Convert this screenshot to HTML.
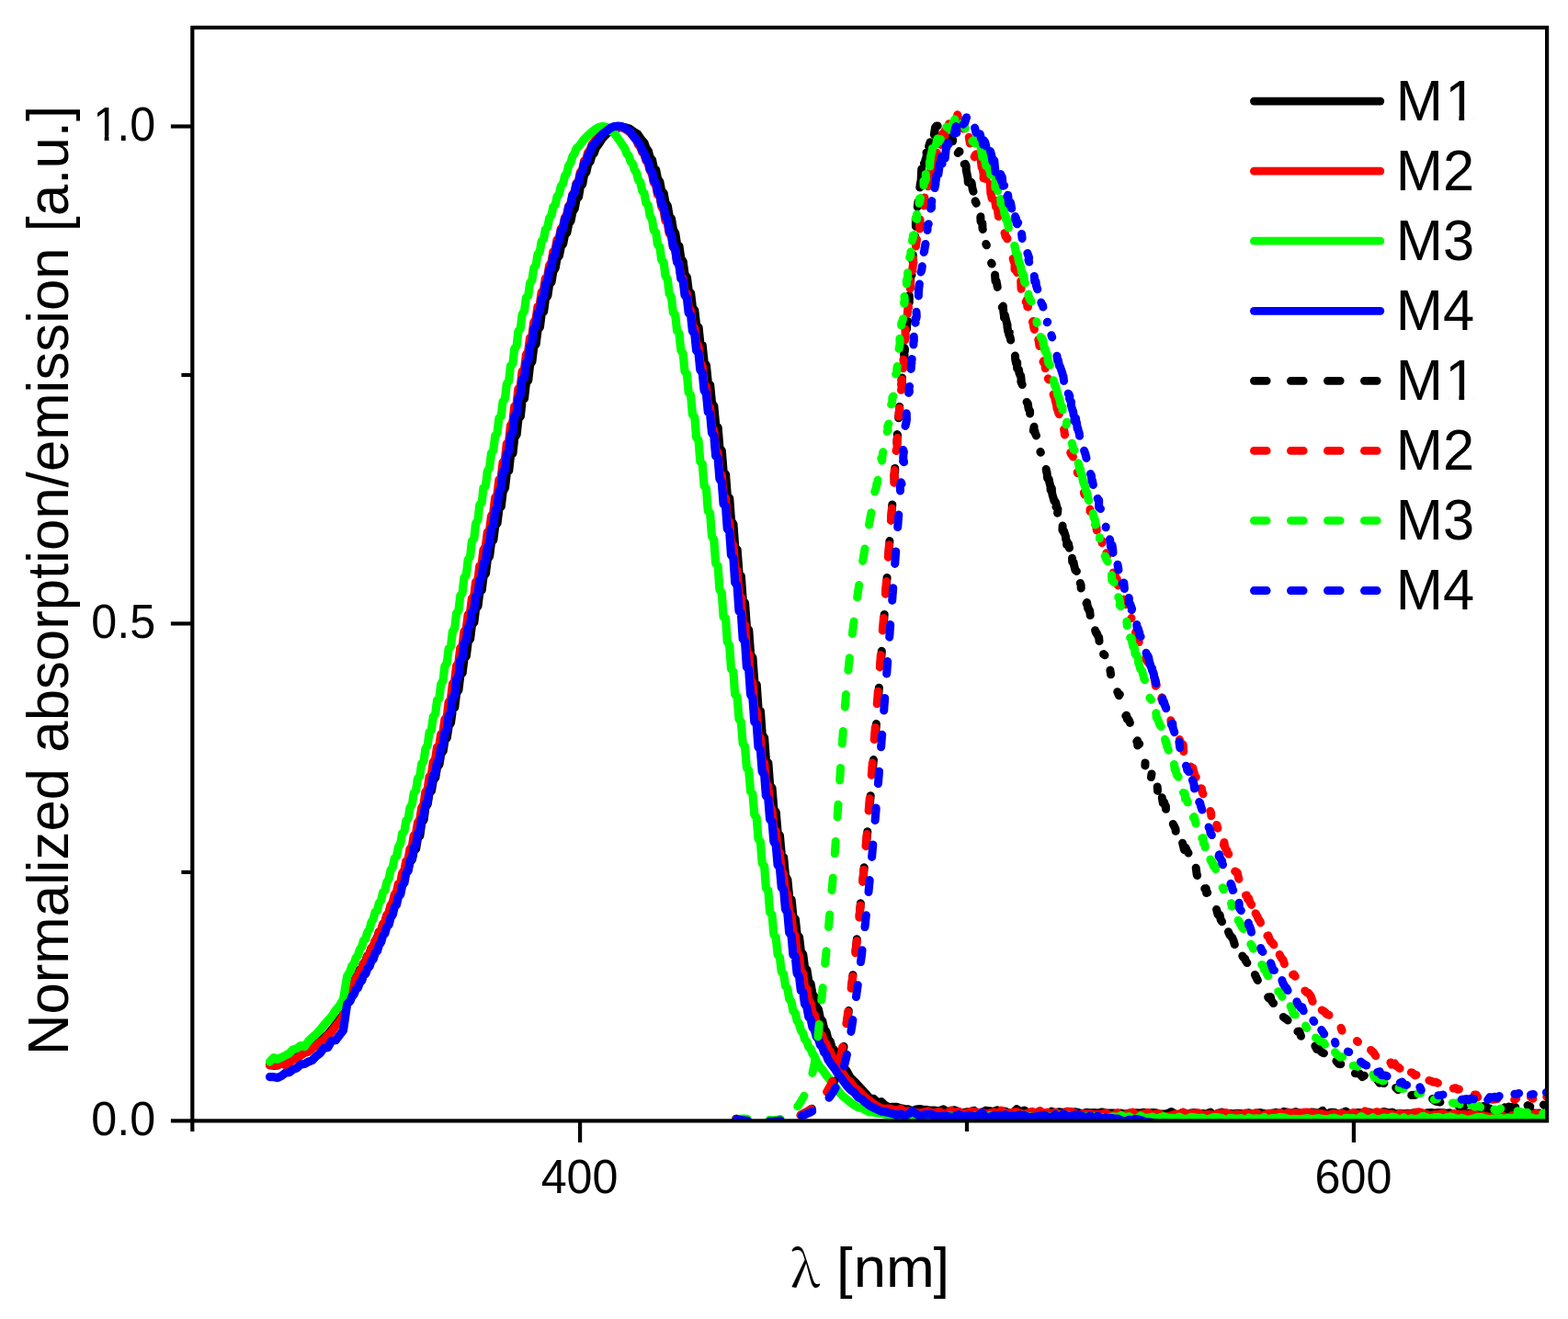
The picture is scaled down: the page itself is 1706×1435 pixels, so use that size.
<!DOCTYPE html>
<html lang="en"><head><meta charset="utf-8"><title>Normalized absorption/emission spectra</title>
<style>
html,body{margin:0;padding:0;background:#fff;}
body{width:1706px;height:1435px;overflow:hidden;}
svg{display:block;}
svg text{font-family:'Liberation Sans', sans-serif;fill:#000;}
</style></head>
<body>
<svg width="1706" height="1435" viewBox="0 0 1706 1435">
<rect x="0" y="0" width="1706" height="1435" fill="#fff"/>
<defs><clipPath id="plot"><rect x="209.3" y="30.0" width="1473.80" height="1189.40"/></clipPath></defs>
<g clip-path="url(#plot)" fill="none">
<path d="M293.5 1158.5l4.2 0.8l4.2 -0.4l4.2 -2.2l4.3 0.5l4.2 -2.1l4.2 -3.2l4.2 -1.7l4.2 -2.8l4.2 -2.4l4.2 -2.8l4.2 -2.3l4.2 -4.1l4.3 -2.8l4.2 -4l4.2 -3.5l4.2 -5.1l4.2 -5.2l4.2 -6l4.2 -4.9l4.2 -22.7l3.3 -5l1.9 -5.4l2.3 -2.1l1.9 -5.4l2.3 -3l1.9 -5.5l2.4 -1.5l1.8 -5.5l2.4 -2.7l1.8 -5.6l2.4 -2.2l1.8 -5.7l2.4 -2l1.8 -5.9l2.4 -4.1l1.8 -6l2.4 -1.7l1.9 -6.3l2.3 -3.3l1.9 -6.6l2.3 -2.3l1.9 -7l2.3 -3.7l1.9 -7.2l2.3 -2.6l1.9 -7l2.4 -2.7l1.8 -6.6l2.4 -2.6l1.8 -6.3l2.4 -3l1.8 -6.8l2.4 -3.3l1.8 -8.7l2.4 -2.9l1.9 -11.6l2.3 -2.4l1.9 -14l2.3 -3.4l1.9 -13.6l2.3 -3.6l1.9 -12.2l2.3 -2l1.9 -11.5l2.4 -3.2l1.8 -11.2l2.4 -2.9l1.8 -11.3l2.4 -3.5l1.8 -11.8l2.4 -2.5l1.8 -12.7l2.4 -3.8l1.9 -14.3l2.3 -2.3l1.9 -15.5l2.3 -3.5l1.9 -15.9l2.3 -2.5l1.9 -15.6l2.3 -2.8l1.9 -15.2l2.4 -3.7l1.8 -15l2.4 -2.8l1.8 -14.8l2.4 -3l1.8 -14.8l2.4 -2.6l1.8 -14.8l2.4 -3.2l1.9 -15l2.3 -3.8l1.9 -15.2l2.3 -2.4l1.9 -15.4l2.3 -2.9l1.9 -15.7l2.3 -2.4l1.9 -16l2.4 -4.5l1.8 -16.1l2.4 -2.6l1.8 -16.3l2.4 -2.3l1.8 -16.6l2.4 -4l1.8 -16.8l2.4 -3l1.8 -16.9l2.4 -2.4l1.9 -17l2.3 -2.8l1.9 -16.9l2.3 -3.7l1.9 -16.2l2.3 -2.5l1.9 -15.5l2.4 -3.2l1.8 -14.5l2.4 -2.4l1.8 -13.5l2.4 -3.6l1.8 -12.4l2.4 -2.6l1.8 -11.5l2.4 -3.8l1.8 -10.6l2.4 -2.7l1.9 -10l2.3 -2.9l1.9 -9.7l2.3 -2.5l1.9 -9.6l2.3 -3.3l1.9 -9.8l2.3 -3.5l1.9 -10.3l2.4 -2.4l1.8 -10.8l2.4 -3l1.8 -10.1l2.4 -3.3l1.8 -8.3l2.4 -3l1.8 -6.6l2.4 -2.5l1.9 -5.6l3.2 -4.3l4.3 -6.6l4.2 -4.4l4.2 -3.2l4.2 -2.4l4.2 -1.1l4.2 -0.5l4.2 0.4l4.2 1.3l4.2 3.1l4.2 2.4l4.3 6.2l3.2 3.7l1.9 5.4l2.4 3.3l1.8 6.8l2.4 2.9l1.8 8.5l2.4 2.5l1.8 9.4l2.4 3.7l1.8 9.9l2.4 2.2l1.9 10.4l2.3 3.4l1.9 11l2.3 3l1.9 11.7l2.3 4l1.9 12.4l2.3 1.6l1.9 13.1l2.4 3.8l1.8 13.9l2.4 3.2l1.8 14.6l2.4 2.8l1.8 15.4l2.4 3.3l1.8 16.2l2.4 2.1l1.8 17.1l2.4 2.4l1.9 17.9l2.3 4.2l1.9 18.8l2.3 2.2l1.9 19.8l2.3 3.3l1.9 20.7l2.4 2.6l1.8 21.7l2.4 3.9l1.8 22.6l2.4 2.9l1.8 23.6l2.4 2.3l1.8 24.4l2.4 3.7l1.8 25.2l2.4 2.6l1.9 25.9l2.3 2.9l1.9 26.3l2.3 3l1.9 26.6l2.3 2.9l1.9 26.6l2.3 3.4l1.9 26.5l2.4 2.8l1.8 26.1l2.4 2.8l1.8 25.5l2.4 3.6l1.8 24.8l2.4 2.3l1.8 24.1l2.4 3.3l1.9 23.2l2.3 3l1.9 22.2l2.3 3.4l1.9 21.3l2.3 2.2l1.9 20.4l2.3 3.9l1.9 19.4l2.4 2.4l1.8 18.2l2.4 2.9l1.8 16.8l2.4 2.8l1.8 15.4l2.4 3.5l1.8 14l2.4 2.8l1.9 12.7l2.3 2.5l1.9 11.5l2.3 3l1.9 10.3l2.3 3.2l1.9 9.4l2.3 3l1.9 8.3l2.4 3.7l1.8 7.3l2.4 3l1.8 6.4l2.4 2.4l1.8 5.8l2.4 2.1l1.8 5.2l3.3 4.6l4.2 5.2l4.2 7.5l4.3 4.2l4.2 4.5l4.2 4.5l4.2 4.4l4.2 5.1l4.2 0.3l4.2 4l4.2 -0.6l4.2 3.9l4.3 2.1l4.2 -0.4l4.2 0.1l4.2 1.4l4.2 0.8l4.2 0.3l4.2 1.8l4.2 -1.6l4.2 -0.5l4.3 0.8l4.2 0.3l4.2 0.5l4.2 0l4.2 0.5l4.2 -1.8l4.2 2.9l4.2 -1.4l4.2 -0.5l4.2 2l4.3 0.8l4.2 -0.8l4.2 -0.4l4.2 -1.1l4.2 4.2l4.2 -2.2l4.2 -2.2l4.2 0.5l4.2 0.9l4.3 -1.7l4.2 1.9l4.2 -0.7l4.2 1.9l4.2 -0.2l4.2 -4l4.2 3.1l4.2 -1.8l4.2 3.1l4.3 -1l4.2 0.5l4.2 -1.7l4.2 3.3l4.2 0.3l4.2 -3.4l4.2 1.7l4.2 -1.1l4.2 0.8l4.3 -1.3l4.2 3.6l4.2 -3.1l4.2 0.8l4.2 1l4.2 -1.2l4.2 0.5l4.2 -0.3l4.2 0.5l4.3 -1.1l4.2 0.8l4.2 0.3l4.2 -0.1l4.2 0.5l4.2 -0.3l4.2 1.1l4.2 -1.1l4.2 0.2l4.2 -0.5l4.3 0.2l4.2 -0.8l4.2 2l4.2 -1.8l4.2 0.4l4.2 1.3l4.2 0l4.2 -0.8l4.2 -1.8l4.3 2.7l4.2 -0.1l4.2 -1.9l4.2 2.4l4.2 -1.6l4.2 -0.4l4.2 1.3l4.2 -0.3l4.2 0.4l4.3 -2l4.2 3.8l4.2 -2.7l4.2 -1.1l4.2 2.4l4.2 -1.1l4.2 0.7l4.2 -0.8l4.2 0.3l4.3 0.3l4.2 -1.1l4.2 1.5l4.2 -1.3l4.2 -0.4l4.2 1l4.2 0.4l4.2 -0.8l4.2 -0.8l4.3 1.6l4.2 -2.6l4.2 0.8l4.2 1.1l4.2 -1.6l4.2 1.5l4.2 -0.1l4.2 1.1l4.2 -2.1l4.2 0.3l4.3 1.1l4.2 -3.1l4.2 6.1l4.2 -4.2l4.2 0l4.2 1.7l4.2 -0.9l4.2 -2l4.2 2.7l4.3 0.2l4.2 -1.4l4.2 0.2l4.2 0.8l4.2 -1.5l4.2 1.5l4.2 -0.3l4.2 -0.9l4.2 -0.8l4.3 1.3l4.2 -0.7l4.2 2.1l4.2 -1l4.2 0.7l4.2 -0.7l4.2 0.2l4.2 -1.2l4.2 1.6l4.3 1.3l4.2 -2.3l4.2 -0.3l4.2 0.5l4.2 -0.4l4.2 -0.2l4.2 0.9l4.2 -0.5l4.2 1.9l4.3 -1.5l4.2 0.3l4.2 0.7l4.2 -1.3l4.2 1.9l4.2 -2.3l4.2 -0.2l4.2 0.5l4.2 0.3l4.2 -1.4l4.3 1.5l4.2 -1.7l4.2 3.3l4.2 -1.6l4.2 -0.6l4.2 -0.3l4.2 0.6l4.2 0.2l4.2 -0.9l4.3 0.2l4.2 0.8l4.2 -0.3l4.2 1.6l4.2 0.2" stroke="#000" stroke-width="9.2" stroke-linecap="round" stroke-linejoin="round"/>
<path d="M293.5 1158.9l4.2 0l4.2 0.2l4.2 -2.6l4.3 2.3l4.2 -2.3l4.2 -3.6l4.2 -1.6l4.2 -2.9l4.2 -3.1l4.2 -1.1l4.2 -3.8l4.2 -2.9l4.3 -3.6l4.2 -2.7l4.2 -4.9l4.2 -3.9l4.2 -5.8l4.2 -4.9l4.2 -6.3l4.2 -21.2l3.3 -6.7l1.9 -5.6l2.3 -1.9l1.9 -5.6l2.3 -1.9l1.9 -5.6l2.4 -2.8l1.8 -5.6l2.4 -2.4l1.8 -5.7l2.4 -3l1.8 -5.9l2.4 -2.1l1.8 -6l2.4 -2.4l1.8 -6.3l2.4 -3l1.9 -6.5l2.3 -2.1l1.9 -6.9l2.3 -3.8l1.9 -7.5l2.3 -3.3l1.9 -8.1l2.3 -3.2l1.9 -8.8l2.4 -1.9l1.8 -9.4l2.4 -3.5l1.8 -9.9l2.4 -2.6l1.8 -10.5l2.4 -3.2l1.8 -11.2l2.4 -2.5l1.9 -11.9l2.3 -3.2l1.9 -12.8l2.3 -3.7l1.9 -13.5l2.3 -2.8l1.9 -13.7l2.3 -2.7l1.9 -13.2l2.4 -3.9l1.8 -12.3l2.4 -2l1.8 -12l2.4 -3.1l1.8 -13.3l2.4 -3.1l1.8 -15.4l2.4 -3.5l1.9 -16.8l2.3 -2.8l1.9 -16.6l2.3 -3.6l1.9 -15.9l2.3 -2.5l1.9 -15.4l2.3 -3.2l1.9 -15.1l2.4 -2.7l1.8 -14.9l2.4 -3.2l1.8 -14.7l2.4 -2.7l1.8 -14.8l2.4 -2.6l1.8 -14.9l2.4 -4l1.9 -15.1l2.3 -2.1l1.9 -15.4l2.3 -4.2l1.9 -16l2.3 -3l1.9 -16.5l2.3 -2.2l1.9 -16.8l2.4 -3l1.8 -17l2.4 -2.9l1.8 -17.1l2.4 -3.8l1.8 -16.9l2.4 -2.4l1.8 -16.6l2.4 -2.9l1.8 -16.2l2.4 -2.5l1.9 -15.6l2.3 -3.5l1.9 -14.9l2.3 -2.7l1.9 -14.3l2.3 -3.6l1.9 -13.5l2.4 -2.6l1.8 -12.9l2.4 -3.1l1.8 -12.1l2.4 -2.5l1.8 -11.5l2.4 -3.7l1.8 -10.9l2.4 -2.9l1.8 -10.3l2.4 -2.4l1.9 -9.8l2.3 -2.5l1.9 -9.4l2.3 -3.5l1.9 -9.3l2.3 -3l1.9 -9.2l2.3 -3.3l1.9 -9.3l2.4 -2.4l1.8 -9.5l2.4 -3.2l1.8 -9l2.4 -2.5l1.8 -6.8l2.4 -3.1l1.8 -5.2l3.3 -4.5l4.2 -4.6l4.3 -4.1l4.2 -2.4l4.2 -1.6l4.2 -2.3l4.2 0.6l4.2 -0.4l4.2 2.3l4.2 2.9l4.2 5.1l3.3 3.7l1.9 4.9l2.3 2.4l1.9 5.8l2.3 2.5l1.9 6.6l2.4 2.8l1.8 7.8l2.4 4l1.8 9.3l2.4 2.9l1.8 10.3l2.4 2.2l1.8 10.7l2.4 4.3l1.9 11.1l2.3 2.4l1.9 11.5l2.3 2.5l1.9 12l2.3 3.6l1.9 12.5l2.3 2.8l1.9 13.2l2.4 2.7l1.8 13.9l2.4 2.6l1.8 14.7l2.4 3.8l1.8 15.9l2.4 3.1l1.8 17l2.4 1.9l1.8 18.2l2.4 4.2l1.9 19.4l2.3 3l1.9 20.4l2.3 2.6l1.9 21.1l2.3 3.3l1.9 21.5l2.4 2.8l1.8 21.6l2.4 2.8l1.8 21.8l2.4 3.2l1.8 22.4l2.4 3.7l1.8 23l2.4 1.9l1.8 24.3l2.4 3.6l1.9 25.9l2.3 3l1.9 27.6l2.3 2.7l1.9 28.6l2.3 3.1l1.9 28.6l2.3 2.6l1.9 27.6l2.4 3.2l1.8 25.8l2.4 3.4l1.8 24l2.4 3.1l1.8 22.7l2.4 2.5l1.8 21.7l2.4 4.6l1.9 21l2.3 1.5l1.9 20.4l2.3 3.3l1.9 19.9l2.3 2.9l1.9 19.7l2.3 2.9l1.9 19.5l2.4 3.7l1.8 19.3l2.4 2.3l1.8 18.2l2.4 3.8l1.8 16.4l2.4 2.9l1.8 14.2l2.4 2.1l1.9 12.2l2.3 3.8l1.9 10.4l2.3 2.3l1.9 8.8l2.3 4.4l1.9 7.5l2.3 1.7l1.9 6.6l2.4 2.5l1.8 6l2.4 2.1l1.8 5.4l2.4 2.4l1.8 4.9l3.3 6.2l4.2 4.5l4.2 6.6l4.2 3l4.3 6l4.2 3.2l4.2 4.2l4.2 4l4.2 3.1l4.2 3.4l4.2 3l4.2 1.9l4.2 0.7l4.3 -0.4l4.2 1.2l4.2 1.1l4.2 -2l4.2 3.2l4.2 -0.7l4.2 0.3l4.2 1.5l4.2 -0.1l4.3 -0.4l4.2 -1.2l4.2 1.6l4.2 0.1l4.2 -1.3l4.2 2.2l4.2 -0.5l4.2 -2.7l4.2 2.3l4.2 -1.5l4.3 2.6l4.2 -0.3l4.2 -2.1l4.2 0.2l4.2 1.1l4.2 -0.4l4.2 1.9l4.2 -0.9l4.2 -1.1l4.3 1l4.2 -2.9l4.2 2.5l4.2 0.7l4.2 -1.2l4.2 -0.6l4.2 1.5l4.2 1.5l4.2 -1.9l4.3 -1.4l4.2 2.9l4.2 -3.5l4.2 2.6l4.2 -1.1l4.2 1.8l4.2 -1.9l4.2 2.5l4.2 -1l4.3 -2.2l4.2 -0.1l4.2 1.9l4.2 1.8l4.2 -1.2l4.2 0l4.2 -0.2l4.2 1.1l4.2 -0.3l4.3 -0.1l4.2 -1.4l4.2 2.5l4.2 0.2l4.2 -2.9l4.2 4l4.2 -1.7l4.2 -1.3l4.2 -1.5l4.2 2.8l4.3 0l4.2 -1.3l4.2 -1.3l4.2 3.3l4.2 -1.9l4.2 0.2l4.2 3.6l4.2 -0.7l4.2 -1.3l4.3 -1.5l4.2 1.2l4.2 -3.2l4.2 2.6l4.2 -0.9l4.2 -0.6l4.2 -0.3l4.2 2.3l4.2 -0.5l4.3 0l4.2 0.8l4.2 -1.9l4.2 -0.4l4.2 -0.7l4.2 1.6l4.2 1.2l4.2 -1l4.2 0.8l4.3 -2l4.2 0.7l4.2 -0.3l4.2 -0.6l4.2 3.4l4.2 -1.2l4.2 -1.8l4.2 0l4.2 0.7l4.3 -1.5l4.2 2l4.2 -1.9l4.2 1l4.2 -0.8l4.2 0.6l4.2 -1l4.2 -0.3l4.2 0.7l4.2 0.3l4.3 0.4l4.2 0.4l4.2 1.6l4.2 -0.8l4.2 -1.2l4.2 1.1l4.2 -1.6l4.2 2.4l4.2 -1l4.3 -2.1l4.2 2.3l4.2 0.1l4.2 -3.8l4.2 2.1l4.2 0.3l4.2 -1.6l4.2 1l4.2 0.1l4.3 1.6l4.2 -0.2l4.2 2.5l4.2 -3.3l4.2 1.7l4.2 -1.1l4.2 0.2l4.2 -1.6l4.2 -0.8l4.3 1.3l4.2 1.6l4.2 1l4.2 -1.1l4.2 -0.1l4.2 -1.5l4.2 2.6l4.2 -0.2l4.2 -2l4.3 0.5l4.2 -1l4.2 2.7l4.2 -1.2l4.2 -0.5l4.2 0.6l4.2 0l4.2 -0.9l4.2 -0.9l4.2 -0.1l4.3 -0.4l4.2 2.4l4.2 1.9l4.2 -4.3l4.2 2.1l4.2 0.3l4.2 -1.5l4.2 1.3l4.2 -1.4l4.3 2.5l4.2 -1.9l4.2 0.7l4.2 0.7l4.2 -1.2" stroke="#f00" stroke-width="9.2" stroke-linecap="round" stroke-linejoin="round"/>
<path d="M293.5 1155.1l4.2 -4.5l4.2 1.8l4.2 -2.1l4.3 -2l4.2 -2.2l4.2 -4.3l4.2 -1.2l4.2 -3.1l4.2 1.1l4.2 -5.9l4.2 -4l4.2 -3.8l4.3 -4.6l4.2 -5.2l4.2 -4.7l4.2 -4.7l4.2 -6.5l4.2 -5l4.2 -7l4.2 -25.1l3.3 -5.6l1.9 -5.9l2.3 -2.1l1.9 -6.1l2.3 -2.8l1.9 -6.4l2.4 -3.2l1.8 -6.5l2.4 -2.2l1.8 -6.8l2.4 -3.7l1.8 -7.2l2.4 -3.9l1.8 -7.5l2.4 -1.4l1.8 -8l2.4 -3.5l1.9 -8.4l2.3 -2.2l1.9 -8.8l2.3 -3.8l1.9 -9.3l2.3 -3.2l1.9 -9.8l2.3 -1.9l1.9 -10.3l2.4 -4l1.8 -10.8l2.4 -2.5l1.8 -11.3l2.4 -2.5l1.8 -11.8l2.4 -3.6l1.8 -12.3l2.4 -3l1.9 -12.8l2.3 -2.9l1.9 -13.2l2.3 -2.7l1.9 -13.6l2.3 -3.7l1.9 -14.1l2.3 -2.4l1.9 -14.5l2.4 -3l1.8 -14.9l2.4 -2.2l1.8 -15.3l2.4 -4.1l1.8 -15.6l2.4 -3.2l1.8 -15.9l2.4 -2.4l1.9 -16.2l2.3 -3.4l1.9 -16.4l2.3 -2.7l1.9 -16.6l2.3 -3l1.9 -16.7l2.3 -2.6l1.9 -16.6l2.4 -3.7l1.8 -16.6l2.4 -2.8l1.8 -16.5l2.4 -4l1.8 -16.3l2.4 -2.3l1.8 -16.1l2.4 -2.1l1.9 -15.9l2.3 -3.9l1.9 -15.9l2.3 -3l1.9 -15.8l2.3 -3.2l1.9 -15.9l2.3 -2.2l1.9 -15.9l2.4 -3.2l1.8 -16l2.4 -3.6l1.8 -16.2l2.4 -2.2l1.8 -16.3l2.4 -3.1l1.8 -16.1l2.4 -2.8l1.8 -15.4l2.4 -3.6l1.9 -14.6l2.3 -2.1l1.9 -13.7l2.3 -3.5l1.9 -12.8l2.3 -3.2l1.9 -11.9l2.4 -3.1l1.8 -11l2.4 -2.9l1.8 -10.1l2.4 -2.5l1.8 -9.5l2.4 -3.4l1.8 -9l2.4 -2.4l1.8 -8.7l2.4 -3.2l1.9 -8.4l2.3 -2.7l1.9 -8.3l2.3 -3.2l1.9 -8.2l2.3 -3.2l1.9 -6.8l2.3 -3.3l1.9 -5.4l3.3 -2.8l4.2 -5.9l4.2 -4.6l4.2 -3.7l4.2 -3.4l4.2 -2.6l4.3 -1l4.2 0.9l4.2 3.7l4.2 3l4.2 5.7l4.2 6.3l3.3 4.9l1.8 5.2l2.4 2.6l1.9 6l2.3 2.4l1.9 6.7l2.3 3.1l1.9 7.9l2.3 2.5l1.9 9.2l2.3 3.1l1.9 10.2l2.4 2.8l1.8 11l2.4 4l1.8 12l2.4 2.5l1.8 12.9l2.4 2.8l1.8 13.9l2.4 2.7l1.9 14.9l2.3 3.5l1.9 15.8l2.3 3.6l1.9 16.7l2.3 2.6l1.9 17.5l2.3 2.5l1.9 18.3l2.4 3.9l1.8 19.2l2.4 3l1.8 20.2l2.4 2.8l1.8 21.1l2.4 2.9l1.8 22l2.4 3.1l1.8 22.9l2.4 2.8l1.9 23.7l2.3 3.1l1.9 24.5l2.3 2.4l1.9 25.1l2.3 3.9l1.9 25.7l2.4 2.4l1.8 25.9l2.4 3.7l1.8 26l2.4 1.4l1.8 25.7l2.4 4.1l1.8 25.4l2.4 3.1l1.8 24.8l2.4 2.5l1.9 24.1l2.3 3.3l1.9 23.5l2.3 3.1l1.9 23.1l2.3 2.9l1.9 22.9l2.3 2.5l1.9 22.9l2.4 3.1l1.8 23l2.4 3.4l1.8 23.3l2.4 3.1l1.8 23.8l2.4 2.6l1.8 23.6l2.4 2.9l1.9 21.5l2.3 3.1l1.9 18.5l2.3 3.3l1.9 15.7l2.3 2.1l1.9 13.2l2.3 2.9l1.9 11.2l2.4 3.5l1.8 9.6l2.4 2.5l1.8 8.2l2.4 3.2l1.8 7.1l2.4 3.2l1.8 6.4l2.4 2.9l1.9 5.9l2.3 1.8l1.9 5.4l2.3 3l1.9 5.1l3.3 5.3l4.2 5.2l4.2 6l4.2 5l4.2 5.2l4.2 6.4l4.2 4.7l4.2 3.3l4.2 3.7l4.3 2.9l4.2 2.6l4.2 0.8l4.2 2.5l4.2 1.8l4.2 0.1l4.2 1.1l4.2 0.1l4.2 1l4.3 1.5l4.2 -1.2l4.2 0.4l4.2 1.2l4.2 -0.1l4.2 1.4l4.2 -3.8l4.2 3.6l4.2 -1.4l4.3 0.6l4.2 0.8l4.2 0.3l4.2 -0.1l4.2 -0.9l4.2 1.6l4.2 -2.1l4.2 0.1l4.2 1.1l4.2 -1.5l4.3 3l4.2 -1.3l4.2 1.3l4.2 -2.4l4.2 -0.4l4.2 0.6l4.2 0.6l4.2 -1.4l4.2 1l4.3 -0.4l4.2 1.8l4.2 -2.5l4.2 1.9l4.2 -1.9l4.2 -0.3l4.2 0.2l4.2 -0.5l4.2 1.5l4.3 1.1l4.2 -0.9l4.2 0.5l4.2 1.2l4.2 -1.5l4.2 0l4.2 -0.4l4.2 -1.4l4.2 2.7l4.3 -2.7l4.2 2.7l4.2 -0.7l4.2 1.4l4.2 -1.3l4.2 -0.8l4.2 1.4l4.2 -0.9l4.2 0.4l4.3 0.3l4.2 -0.1l4.2 0l4.2 -0.7l4.2 0.8l4.2 -2.1l4.2 2.2l4.2 -1.1l4.2 2.6l4.2 0.3l4.3 -3.5l4.2 2.3l4.2 -0.2l4.2 -1l4.2 1.8l4.2 -1l4.2 -1.4l4.2 1.7l4.2 0.1l4.3 0.3l4.2 -1.4l4.2 2l4.2 0.2l4.2 -2.1l4.2 0.6l4.2 0.6l4.2 -0.5l4.2 2.5l4.3 -1.7l4.2 -1.3l4.2 0.2l4.2 0.8l4.2 2.6l4.2 -2.7l4.2 0.3l4.2 0.5l4.2 -0.6l4.3 2.5l4.2 -3.1l4.2 1.4l4.2 -0.6l4.2 0.5l4.2 -2l4.2 3.2l4.2 -2l4.2 0.1l4.3 -1l4.2 0.2l4.2 1.4l4.2 0.5l4.2 -0.3l4.2 0.5l4.2 -0.5l4.2 -0.8l4.2 0.9l4.2 -0.2l4.3 -0.8l4.2 0.9l4.2 0.6l4.2 -1.1l4.2 -0.7l4.2 1.2l4.2 1.3l4.2 -2.3l4.2 0.1l4.3 0l4.2 1.5l4.2 -3.4l4.2 2.4l4.2 0.9l4.2 -2.2l4.2 2.6l4.2 -1.1l4.2 -1.2l4.3 0.9l4.2 -1.9l4.2 1l4.2 2.7l4.2 -3l4.2 3l4.2 -2.1l4.2 1.2l4.2 -1l4.3 -2.5l4.2 1.8l4.2 0.8l4.2 -1.4l4.2 -0.2l4.2 1.9l4.2 -1.2l4.2 -1.1l4.2 1.1l4.3 1.7l4.2 -1.4l4.2 1.5l4.2 0.7l4.2 -1.7l4.2 -1.2l4.2 -0.2l4.2 1.4l4.2 1l4.2 -0.7l4.3 0.3l4.2 -1l4.2 0.8l4.2 -0.9l4.2 0.2l4.2 -1.1l4.2 -0.3l4.2 1.2l4.2 -0.6l4.3 0.1l4.2 1.8l4.2 -0.8l4.2 3.3l4.2 -2.2" stroke="#0f0" stroke-width="9.2" stroke-linecap="round" stroke-linejoin="round"/>
<path d="M293.5 1171.6l4.2 0.1l4.2 0.9l4.2 -2l4.3 -3.3l4.2 -0.6l4.2 -3.1l4.2 -1.7l4.2 -3.8l4.2 -0.6l4.2 -2.4l4.2 -1.6l4.2 -4.4l4.3 -3.3l4.2 -5.6l4.2 -0.6l4.2 -7.3l4.2 -0.5l4.2 -5.3l4.2 -5.5l4.2 -28.7l3.3 -3.2l1.9 -4.7l2.3 -2.7l1.9 -4.9l2.3 -2.2l1.9 -5.2l2.4 -2.5l1.8 -5.4l2.4 -2.1l1.8 -5.6l2.4 -2.3l1.8 -5.8l2.4 -2.5l1.8 -6.1l2.4 -2.3l1.8 -6.4l2.4 -3.7l1.9 -6.7l2.3 -2.6l1.9 -7l2.3 -2.4l1.9 -7.5l2.3 -3.4l1.9 -8l2.3 -2.9l1.9 -8.7l2.4 -2.5l1.8 -9.3l2.4 -3.5l1.8 -10l2.4 -2.9l1.8 -10.8l2.4 -3.2l1.8 -11.6l2.4 -2.2l1.9 -12.3l2.3 -3.3l1.9 -12.7l2.3 -3.7l1.9 -12.9l2.3 -2.5l1.9 -12.7l2.3 -3.7l1.9 -12.3l2.4 -2.1l1.8 -12.2l2.4 -3.1l1.8 -12.5l2.4 -3.3l1.8 -13.3l2.4 -3.1l1.8 -14.8l2.4 -3.6l1.9 -16.7l2.3 -1.9l1.9 -17.7l2.3 -3.3l1.9 -17.3l2.3 -3l1.9 -15.7l2.3 -2.6l1.9 -14.1l2.4 -3.6l1.8 -13.7l2.4 -3l1.8 -14l2.4 -3l1.8 -14.7l2.4 -3.2l1.8 -15.3l2.4 -1.5l1.9 -15.8l2.3 -4.1l1.9 -16.4l2.3 -3l1.9 -16.9l2.3 -2.5l1.9 -17.2l2.3 -4.6l1.9 -17.4l2.4 -1.8l1.8 -17.5l2.4 -3l1.8 -17.4l2.4 -3.4l1.8 -17.3l2.4 -2.4l1.8 -16.9l2.4 -4l1.8 -16.5l2.4 -2.2l1.9 -16l2.3 -2.6l1.9 -15.4l2.3 -4.3l1.9 -14.7l2.3 -2.7l1.9 -14.1l2.4 -2.5l1.8 -13.4l2.4 -3l1.8 -12.8l2.4 -3.2l1.8 -12.2l2.4 -2.6l1.8 -11.7l2.4 -3l1.8 -11.1l2.4 -3.7l1.9 -10.6l2.3 -2.5l1.9 -10.2l2.3 -3.5l1.9 -9.8l2.3 -3.3l1.9 -9.4l2.3 -3.2l1.9 -9l2.4 -1.6l1.8 -8.7l2.4 -3.5l1.8 -8.2l2.4 -2.1l1.8 -6.8l2.4 -4l1.8 -5.6l3.3 -4.3l4.2 -4.7l4.3 -5.1l4.2 -3.2l4.2 -3.2l4.2 -1.8l4.2 -0.3l4.2 0.4l4.2 2.3l4.2 2.8l4.2 5.6l4.2 5.4l3.3 4.3l1.9 5.5l2.3 2.9l1.9 6.7l2.4 2.7l1.8 8.1l2.4 3.3l1.8 9l2.4 2.9l1.8 9.7l2.4 2.7l1.8 10.5l2.4 2.3l1.9 11.3l2.3 3.5l1.9 12.2l2.3 4.1l1.9 13.1l2.3 2.6l1.9 14l2.3 3.2l1.9 14.9l2.4 2.2l1.8 15.6l2.4 3.2l1.8 16.2l2.4 2.7l1.8 16.9l2.4 3.6l1.8 17.6l2.4 2.8l1.8 18.4l2.4 3.1l1.9 19.1l2.3 3.5l1.9 20l2.3 1.9l1.9 20.8l2.3 3.6l1.9 21.7l2.4 2.1l1.8 22.6l2.4 4l1.8 23.5l2.4 2.4l1.8 24.6l2.4 3.1l1.8 25.6l2.4 3l1.8 26.6l2.4 3.6l1.9 27.5l2.3 2.3l1.9 28l2.3 2.8l1.9 27.9l2.3 2.8l1.9 27.2l2.3 3.6l1.9 26.1l2.4 2.5l1.8 24.8l2.4 3.1l1.8 23.7l2.4 3.2l1.8 22.9l2.4 3.3l1.8 22.3l2.4 2.5l1.9 21.9l2.3 3.5l1.9 21.7l2.3 3.4l1.9 21.5l2.3 1.7l1.9 21.6l2.3 4.1l1.9 21.6l2.4 3.4l1.8 20.7l2.4 1.9l1.8 18.1l2.4 3.5l1.8 15.2l2.4 2.2l1.8 12.5l2.4 3.6l1.9 10.4l2.3 2.7l1.9 8.6l2.3 3.2l1.9 7.2l2.3 2.4l1.9 6.3l2.3 2.6l1.9 5.7l2.4 2.5l1.8 5.2l3.3 4.8l4.2 5.6l4.2 6.4l4.2 5.6l4.2 5.6l4.2 4.8l4.3 3.1l4.2 5.2l4.2 2.3l4.2 3.7l4.2 3.3l4.2 2.1l4.2 2l4.2 2.1l4.2 0.5l4.3 0.9l4.2 1.1l4.2 1.5l4.2 -1.2l4.2 1.8l4.2 -1.7l4.2 -3.3l4.2 3l4.2 2.5l4.3 -1.6l4.2 -0.3l4.2 -0.3l4.2 2.6l4.2 -0.2l4.2 -0.2l4.2 -0.2l4.2 1.2l4.2 -0.6l4.2 -2.2l4.3 2.2l4.2 -0.7l4.2 -0.3l4.2 1l4.2 -0.8l4.2 -3.2l4.2 4.9l4.2 -0.5l4.2 -1.3l4.3 -0.3l4.2 0.7l4.2 -1.6l4.2 1.7l4.2 -0.5l4.2 -0.2l4.2 -0.6l4.2 0.3l4.2 2l4.3 0.3l4.2 -0.9l4.2 -0.6l4.2 -0.9l4.2 1.8l4.2 1l4.2 -3.6l4.2 3.1l4.2 -3.6l4.3 2l4.2 0.9l4.2 -1.9l4.2 -0.1l4.2 1.9l4.2 0.8l4.2 -1.4l4.2 2.2l4.2 -2.1l4.3 3l4.2 -1.5l4.2 0.5l4.2 0.7l4.2 0.1l4.2 2l4.2 0.9l4.2 -1.5l4.2 -0.3l4.2 -0.6l4.3 1.2l4.2 1.5l4.2 0.5l4.2 0.7l4.2 0.6l4.2 1.1l4.2 -1.4l4.2 1l4.2 2.9l4.3 0.3l4.2 -1.1l4.2 2.5l4.2 -1.9l4.2 0.7l4.2 -1.6l4.2 2.9l4.2 -0.9l4.2 1.2l4.3 -0.4l4.2 -0.6l4.2 0.1l4.2 1.1l4.2 -1.5l4.2 0.1l4.2 0.2l4.2 0.8l4.2 0.2l4.3 1.1l4.2 -2.2l4.2 1.5l4.2 -2.1l4.2 1.4l4.2 -0.5l4.2 1.8l4.2 -1.3l4.2 -1.1l4.3 1.1l4.2 -0.2l4.2 -0.7l4.2 0l4.2 -0.7l4.2 4.1l4.2 -2.9l4.2 0.9l4.2 -2.3l4.2 0.1l4.3 1l4.2 0l4.2 1.1l4.2 -2l4.2 1.7l4.2 1.1l4.2 -2.7l4.2 2l4.2 -2l4.3 1.4l4.2 0.1l4.2 1.5l4.2 -2.7l4.2 1l4.2 0.9l4.2 -2.4l4.2 1.3l4.2 -1l4.3 0.2l4.2 1.5l4.2 0.1l4.2 2l4.2 -1.3l4.2 -0.1l4.2 -1.6l4.2 -0.1l4.2 0.5l4.3 -2.7l4.2 4.3l4.2 -2.5l4.2 -0.4l4.2 0.6l4.2 1.5l4.2 0.4l4.2 -1.8l4.2 0.9l4.3 -0.5l4.2 -1.1l4.2 1.3l4.2 -0.1l4.2 -1.8l4.2 2.9l4.2 -2.9l4.2 2l4.2 -1.4l4.2 0.2l4.3 0.1l4.2 1.6l4.2 -2.2l4.2 1.2l4.2 1.9l4.2 -2.4l4.2 0.7l4.2 0.8l4.2 -1.4l4.3 1.1l4.2 -1.2l4.2 1.5l4.2 -0.7l4.2 -1.1" stroke="#00f" stroke-width="9.2" stroke-linecap="round" stroke-linejoin="round"/>
<path d="M801.3 1217.2l2.3 0.7l2.4 0.6l2.4 0.6l2.4 0.5l2.4 0.4M836.9 1221.1l2.4 -0.2l2.4 -0.2l2.5 -0.3l2.4 -0.4l2.4 -0.4M871.7 1212.7l2 -1l2 -1l1.9 -1l2 -1.1l1.9 -1.2l1.8 -1.2M901.3 1187.8l1.2 -1.8l1.1 -2l1.1 -1.9l1 -2l1 -2l0.9 -2M915.5 1151.5l0.5 -2.1l0.4 -2.2l0.5 -2.2l0.4 -2.2l0.4 -2.2l0.4 -2.1M921.7 1112.8l0.3 -2.2l0.2 -2.2l0.3 -2.2l0.3 -2.2l0.3 -2.2l0.2 -2.2M926.4 1073.9l0.3 -2.2l0.3 -2.2l0.2 -2.2l0.3 -2.2l0.2 -2.2l0.3 -2.2M930.9 1035l0.2 -2.2l0.3 -2.2l0.2 -2.2l0.3 -2.2l0.2 -2.2l0.2 -2.2M935.1 996l0.2 -2.2l0.2 -2.2l0.2 -2.2l0.3 -2.2l0.2 -2.2l0.2 -2.2M939 957l0.2 -2.2l0.2 -2.2l0.2 -2.2l0.2 -2.2l0.2 -2.2l0.2 -2.2M942.6 918l0.2 -2.2l0.2 -2.2l0.2 -2.2l0.2 -2.2l0.2 -2.2l0.2 -2.3M946.1 879l0.1 -2.2l0.2 -2.2l0.2 -2.3l0.2 -2.2l0.2 -2.2l0.2 -2.2M949.3 839.9l0.2 -2.2l0.2 -2.2l0.1 -2.2l0.2 -2.2l0.2 -2.2l0.2 -2.3M952.4 800.9l0.2 -2.3l0.2 -2.2l0.1 -2.2l0.2 -2.2l0.2 -2.2l0.1 -2.2M955.4 761.8l0.2 -2.3l0.1 -2.2l0.2 -2.3l0.2 -2.3l0.1 -2.2l0.2 -2.3M958.3 721.9l0.2 -2.3l0.2 -2.2l0.1 -2.3l0.2 -2.3l0.2 -2.2l0.1 -2.3M961.2 682l0.2 -2.3l0.2 -2.2l0.1 -2.3l0.2 -2.2l0.1 -2.3l0.2 -2.3M964.1 642.1l0.1 -2.3l0.2 -2.2l0.2 -2.3l0.1 -2.2l0.2 -2.3l0.2 -2.3M966.9 602.2l0.2 -2.3l0.2 -2.2l0.1 -2.3l0.2 -2.2l0.2 -2.3l0.1 -2.3M969.8 562.3l0.2 -2.2l0.2 -2.2l0.1 -2.2l0.2 -2.2l0.1 -2.2l0.2 -2.3M973.2 524.4l0.1 -6.1l-0.4 2.9l0.2 -4.7l0.1 -1.1l0.6 -3.5l-0.1 -2.5M976 481.7l-0.1 0.3l0.2 -4.1l0.5 -4.4l-0.4 -0.9M977.7 454.8l0 -1.8l0.8 -3.9l0.5 -1l-0.3 -1.5l0 -4.2M981 417.9l0.1 0.6l0.5 -1.6l-0.7 -4l0.4 1l0.2 -3M983.7 389.2l0.4 -3.1l-0.6 -0.6l0.9 -4l0.1 -1.6l-0.6 -1.6M986.6 357.7l0 -3.7l0.4 -1.3l-0.1 -1.6l0.7 -1.7M989.3 328.9l0.1 -6.3l0 0.3l-0.1 -1.4M990.7 308.3l-0.1 -8.1l0.7 -0.7l0.7 -0.5M992.8 283.5l-0.2 -3.1l0.6 -0.7l0.1 -2.5M994.4 262.7l-0.1 -4.2l0.5 2l0.8 -3.5M996.4 246.4l0 -6.5l-0.1 -1.8l1.2 -0.2M998.2 225l0.2 -0.9l0.5 -4.2l0.5 -1.1M1000.8 203.9l0.6 -4.7l0.2 -0.6l0.5 -1l0 -1.5l0.2 -4.5l0.4 -7.7M1005.4 177.8l1.4 -2l0.1 -1.8l0.9 -2.3l0.6 -3.3l-0.4 -2.3M1010.6 159.4l1.4 -4.7M1016.3 146.5l1.2 -7.6l1.6 -2l1.1 0M1030.6 142.2l0.9 2.2l0.7 -4.5l1.6 7.8l0.5 4.3l2.3 0.4l-0.1 1.4M1042.2 166.5l1.4 -2l0.5 0.5M1049.2 178.6l1 -0.2l1 2.3l0 4.3l1.7 8.2l0.4 5.2M1056.5 198.3l0.6 0.6l1 6.7l0.9 2.7M1061.1 218.8l1.1 2.4M1066.8 237.8l0.1 -2l0.1 4.9l1 1.5l0.8 0.5l0.2 5.8l0.3 1M1072.8 265.4l0.6 1.4M1078.6 286.1l0.6 1M1082.5 299.6l0.1 -0.5l0.4 6.7l0.8 -0.5l0.3 0.7l0.8 4.3l0.3 2.1M1091.4 333.1l-1.1 1.3l1.2 1l0.3 3.8l0.8 5.3l-0.1 1.1l0.8 -2.8l1.2 5.4l0.4 1.2l1.2 4.6l-0.2 1.2l0.9 5.5l1.5 0.9l-0.6 2.3l0.5 1.3l0.9 2l0.6 2.9M1104.5 387.1l0.2 3.8l0.5 2.7l0.3 1.6l0.7 -1.6l0.5 0.8l-0.1 6.3l1.9 1.5l0.4 3.6l0.4 0.7l1 2.8l0.4 -0.3l0.5 5.1l-0.4 1l1.4 3.4M1117.1 437.4l0.8 1.3l0.5 0.8l0.2 1.9l0.6 3.5l1.4 2.4l0 2.7M1125.1 464.3l-0.7 4.1l1.5 0.4l0.3 2.4l1 2.1l0.3 0.6M1131.9 491.5l0.5 0.8M1138.2 510.5l0.4 2.8l0.4 0.3l0.6 6.4l0.6 1.1l1.1 0.4l0.4 2.9l0.1 0.4l1.1 4.1l0.2 4.2l1.2 -1.8l0.2 4.2l0.6 3.2l1.2 3.6l0.6 2.7l0.1 -0.5l1.5 1.9l1.1 4l-0.6 1.1l1.9 2.3l-0.3 4.4M1156.1 572.1l-0.2 4.4l1.3 2.4l0.4 -1.1l1.9 6l0.1 2.9l0.5 0.6l0.6 1.8l-0.1 3.6l1.8 -1.2l1 4.7M1166.5 607.3l0.2 3.9l1.4 0.8l0.4 2.7l1.2 4.6l0.2 0.8l1.5 1.4M1175.3 634.4l0.8 2.1l0.1 3.5M1182 656.4l0.6 -0.9l1 6.2l0.3 -1.1l0.8 3.2l0.9 0.4l0.6 5.2M1191.6 685.8l1 3l0.9 0.1l0.6 2.2l1.5 2.3l0.4 4.2M1200.6 711.6l1.4 1.1M1207.9 729.1l0.7 4.7M1215.8 752.7l0.6 1.4l1 2.6l0.9 -1.3M1224.8 778.9l0.8 -0.7l0.9 4.3l1.1 0.6l0.5 -0.1l1.3 3.4M1236.8 806.7l0.8 -1l0.1 5.2l2 -1.6M1246 829.9l-0.1 3.1M1252.4 845.6l0.6 -3.7M1259.2 856l0.3 4.4M1264.3 867.7l1 6l1.4 -0.8l0.8 3.7l0.9 0.3l0.1 3.4M1276.3 896.5l1.1 2.1l1.6 3.4l0.2 2.3M1286.6 917.2l0.9 3.4l1 4l1.4 -2.5l1.3 2.8l1.8 3.2M1301.2 944.2l0.9 6.8l0.5 1.5M1310.8 966.8l1.4 -0.2l0.4 4.9l1.1 -0.4M1323.6 989.4l1.5 5.7l0.3 -0.6l1.7 0.9l1 5.1l1.5 2.3M1336.5 1013.7l1.4 3.4l1.9 2.2l0.9 0.8l1.2 2.8l1.4 4.7M1351.8 1040l0.9 1.6l1.9 1.4l0.8 2.5l1.5 2.1M1365.4 1060.5l0.2 0.3l1.8 3.8l1 1.9M1379.7 1084.8l0.4 0.9l2.2 -1.2l0.9 3.8l1 1.6l1.4 1.7M1396.3 1106.4l1.8 1.5l1.5 0.7l1.5 1.5M1411.9 1122.2l1.7 -0.2l1.9 5.3M1430.9 1138l1.8 3.6l1.6 -1l1.4 1.8l2.5 2.5l2.2 0.9M1453.9 1154.3l2.6 3l2.3 0.5M1474.4 1167.8l2.9 -0.3l1.9 0.5l1.2 1.6l1.9 2l2.1 -1.4M1498.9 1175.2l2.1 3l2.1 -0.5l2.8 0.9M1518.7 1183.4l2.4 2.2M1535.7 1191.6l4 -0.4M1558.6 1195.6l1.8 1.6l2.4 1.2l2.2 0.3l1.9 0.4M1586.5 1202.9l2.8 0.8l1.7 -0.7l2.5 0.3M1609.3 1203.7l1.8 1.6l2.9 -1.8l1.7 1.5l2.6 0.3l2.7 0.8M1637.3 1204.7l2.7 1.7l1.6 -2.3l2.8 0.5l2 -0.1l2.4 0.1M1662.1 1202.6l2.7 1.2M1679.4 1201.9l2 1.3l2.1 0.1l2.6 1.2l1.3 0.6" stroke="#000" stroke-width="9.0" stroke-linecap="round" stroke-linejoin="round"/>
<path d="M800.4 1217.2l2.4 0.6l2.3 0.6l2.4 0.5l2.4 0.5l2.5 0.4M836 1221.3l2.5 -0.1l2.4 -0.2l2.4 -0.2l2.5 -0.3l2.4 -0.4M870.9 1213.3l2 -1l1.9 -1l1.9 -1.1l1.9 -1.1l1.9 -1.2l1.8 -1.3M899.6 1187.9l1.1 -1.9l1.1 -1.9l1.1 -1.9l1 -2l0.9 -1.9l0.9 -2M913.8 1152l0.5 -2.2l0.5 -2.1l0.5 -2.2l0.5 -2.1l0.4 -2.2l0.4 -2.1M920.8 1113.8l0.4 -2.2l0.3 -2.2l0.3 -2.2l0.3 -2.2l0.3 -2.1l0.3 -2.2M926.1 1075.3l0.3 -2.2l0.3 -2.2l0.3 -2.2l0.3 -2.2l0.2 -2.1l0.3 -2.2M930.8 1036.7l0.3 -2.2l0.2 -2.2l0.3 -2.1l0.2 -2.2l0.2 -2.2l0.3 -2.2M934.9 998.1l0.3 -2.2l0.2 -2.2l0.2 -2.2l0.2 -2.2l0.2 -2.2l0.2 -2.2M938.6 959.4l0.2 -2.2l0.2 -2.2l0.2 -2.2l0.2 -2.1l0.2 -2.2l0.2 -2.2M942 920.7l0.2 -2.2l0.2 -2.2l0.1 -2.2l0.2 -2.2l0.2 -2.1l0.2 -2.2M945.1 882l0.2 -2.2l0.2 -2.2l0.2 -2.2l0.1 -2.2l0.2 -2.2l0.2 -2.2M948.2 843.3l0.2 -2.2l0.2 -2.2l0.1 -2.2l0.2 -2.2l0.2 -2.2l0.1 -2.2M951.2 804.6l0.2 -2.2l0.2 -2.2l0.1 -2.2l0.2 -2.2l0.2 -2.2l0.2 -2.2M954.2 765.8l0.2 -2.2l0.2 -2.3l0.2 -2.3l0.1 -2.2l0.2 -2.3l0.2 -2.2M957.3 725.9l0.2 -2.2l0.1 -2.3l0.2 -2.2l0.2 -2.3l0.1 -2.3l0.2 -2.2M960.3 686.1l0.2 -2.3l0.2 -2.3l0.1 -2.2l0.2 -2.3l0.2 -2.2l0.2 -2.3M963.4 646.2l0.1 -2.3l0.2 -2.3l0.2 -2.2l0.1 -2.3l0.2 -2.2l0.2 -2.3M966.4 606.3l0.1 -2.3l0.2 -2.2l0.2 -2.3l0.2 -2.3l0.1 -2.2l0.2 -2.3M969.4 566.4l0.2 -2.2l0.1 -2.2l0.2 -2.3l0.2 -2.2l0.2 -2.2l0.1 -2.2M972.8 525.3l0.1 -0.8l0.1 -0.9l0.6 -4.1l-0.8 -1.8l0.4 -6.1M975 490.5l1.1 -3.9l-0.1 -2.7l0.2 -1.8l-0.2 -3.2l0.4 -2.4M977.8 453.1l0.7 -3.7l-0.6 -0.7l1 -2.7l-0.3 -1.8M980.4 424.3l0.8 -1.1l-0.3 -2.2l-0.2 -3.6l0.7 -4.5M982.6 400.7l-0.2 -1.7l0.5 -3.2l0.4 -2.2l-0.4 -2.4M984.7 370l0.2 -0.7l0.4 -2.4l-0.3 -5.7l0 -3.1M987.3 341.7l0.3 -4.7l0.5 -2.3l0.4 -0.1l-0.2 -1.5M990.3 314.1l0.3 -0.7l0.3 -2.3l-0.6 -5.7M992.6 294.5l0.4 -3.5l0.5 -3.4l0.4 -1.4l-0.5 -4.9M996.5 268.1l0 -0.9l0.6 -4l0.4 -2.7M1000.7 249l-0.3 -3.7l0.8 -1.7l-0.2 -4.8M1005.1 223.8l0.5 -3.3l0 1l0.3 -6.6M1009.8 202.7l0.4 -2.2l0.4 -5.9l1.3 2l0.7 -11.4l0.5 0.3l0.4 0.9M1016.8 181.5l0.8 -10l0.5 1.9l0.1 -3.5l1 -3.7M1022.5 156.8l1.1 0.6l1 -4.8l0.8 -7l0.9 -0.7l1 10.1l0.8 -12.8M1031.6 139.3l0.9 -4.5l1.2 1.6M1040.2 132.1l1.6 -7.3l1.1 7.1l1.8 -0.6l0.7 5l0.9 2.4l0.6 -2.4l1.2 3.8M1054.2 149.3l1.2 6.7M1060.1 170.7l1.1 -2.2l0.9 -0.8M1067.3 175.1l0.9 7.3l0.8 0.3l1.2 7.2l-0.2 4.1l1.4 -2.3l1.1 -4.6l0.6 7.8M1077.4 200.7l0.5 10.1l0.1 -1.1l1.1 6.1M1082.5 218l1.1 7l-0.2 -1.6l0.9 1.7l1.1 3.2l0.4 3l0.6 4.2M1093 253.6l0.5 0.4l0.4 2.8l2 2.3l-0.1 0.7M1102.2 281.3l0.8 3.2l0.5 0.7l0.6 1.5l-0.1 6.3l1.2 -0.3l1.4 3.9M1110.7 305.8l0.4 8.5M1116.2 328.5l1 -2l0.6 7.2l0.8 0.2M1123.4 350.3l0.8 -0.8l0.3 5.3l0.9 3.6M1129.8 369.5l0.8 4l0.3 2.9M1135.5 392.8l-0.5 0.7l1.9 3.1l0.4 4.2M1140.3 411.8l0.7 1.2M1146.1 429l0.5 1.8l1.1 0.4l0.3 3.7l0.9 3.6l0.6 2l0.5 4.2l0.8 -1l0.6 2.4l-0.1 2l1 2.6M1157.6 467.1l0.9 5.9l0.1 -0.1M1164.7 492.5l1 1.9l0.6 -0.6l1.1 3.2M1172.4 514.7l-0.2 -0.8M1179.4 535.9l0.6 2.1M1186 556.3l0 -2.2M1192.9 573l0.4 4M1199.1 588.5l-0.3 0.3l0.3 1.9M1203.9 601.7l0.8 2.8M1211.3 623l0.6 0.3l1.4 2.4l0.9 4.4l1 -0.6l0.5 4l0.8 3.5M1222.5 652.1l0.7 4.8l1.1 0l0.7 0.8M1231 672.5l-0.2 0.2M1235.5 688l0.5 -0.2l0.9 1.6l0.1 3.2l1.7 0.9l0.5 5.1M1246.6 716.1l1 2.5l0.7 0.7l1.3 2.1M1255.5 735.1l1.2 6.7l0.6 4.4l1 -0.8M1263.7 760.3l0.4 -1.5l1.1 3.6l1.4 1.9l0.6 2.5l0.5 1.2M1273.9 783.8l0.7 4.8M1283.4 804.6l0.8 5.1l1.5 -0.9l0.4 3l1.1 -1.7l0.6 7.6M1295.5 834.1l0.7 0.5l1.7 1l0.7 3.9l0.7 1.5l1.2 5.2l0.8 -0.7M1306.7 857.7l0.8 0.3l0.3 2.8l1.2 3M1316.8 882.5l0.9 2.2l0.1 3M1323.8 897.4l1.1 3.7M1331.3 919l0.6 -2.6l0.7 5.2l1.3 2.6l1 1l0.5 2.6l1.4 1.4M1343.7 947.9l1.7 0.8l1 1.2l0.2 1l1.2 5.4M1355.4 974.1l0.9 -0.1l1.2 4.3l1.1 -1.1l0.8 3.2l2.3 4M1366.1 993.7l2.3 4.2l0.7 2l0.8 1l1.2 1.7l0.4 1.3M1378.9 1018.2l0.9 -0.3l1.3 3.3l1.3 2.7l2 1.9l1.5 2M1392.2 1038.6l1.5 2.9l1.2 1.6l1.2 1.4l1.3 4.2M1406.6 1060.4l1.1 -0.4l1.5 2.3M1419.8 1077.9l2.2 2l1.6 0.5l2 2.4l0.6 1.1l1.9 5.6M1438.2 1099l2 1.1l1.4 1.1l1.8 2.1l2.6 1M1459 1118.2l1.1 3.1M1476.4 1132.5l1.1 0.9M1491.5 1142.4l1.4 1.4l1.6 1.5l2.3 3.4M1512.9 1155.9l1.2 2.3l3.2 -1.3l1.5 2.7l1.6 0.8l2.7 2M1535.4 1166.7l1.3 0.4l2.7 2.8l1.6 -0.5M1554.9 1175.5l2.8 0.8l1.5 0.9l3 0.1l2.2 1M1581.3 1184.1l2.6 -0.4l2 1.6l1.5 -0.3M1604.4 1190.9l1.9 0.1l1.5 2.8M1621.7 1195.2l2.1 1.1l2.5 -0.3l2.7 -0.4M1647.7 1196.4l2 -1.2M1665.4 1193.4l2.5 1.9M1682.8 1193.3l1.4 0.4" stroke="#f00" stroke-width="9.0" stroke-linecap="round" stroke-linejoin="round"/>
<path d="M801 1217.5l2.4 -0.2l2.5 -0.1l2.4 -0.1l2.5 0l2.4 0.1M836.9 1218.6l2.5 0l2.4 -0.1l2.5 -0.2l2.4 -0.3l2.4 -0.5M867.8 1203.7l1.3 -1.8l1.3 -1.9l1.2 -1.9l1.1 -2l1.2 -1.9l1 -2M883.9 1167.4l0.5 -2.2l0.5 -2.2l0.5 -2.2l0.4 -2.3l0.5 -2.2l0.3 -2.2M889.9 1127.9l0.2 -2.3l0.3 -2.2l0.2 -2.3l0.2 -2.2l0.2 -2.3l0.3 -2.2M893.8 1088.1l0.2 -2.3l0.3 -2.2l0.2 -2.3l0.2 -2.2l0.2 -2.3l0.3 -2.2M897.7 1048.3l0.2 -2.3l0.2 -2.2l0.3 -2.3l0.2 -2.2l0.2 -2.3l0.2 -2.2M901.5 1008.5l0.2 -2.3l0.2 -2.2l0.2 -2.3l0.2 -2.2l0.2 -2.3l0.2 -2.2M905 968.7l0.2 -2.3l0.2 -2.3l0.2 -2.2l0.2 -2.3l0.2 -2.2l0.2 -2.3M908.2 928.8l0.2 -2.3l0.2 -2.2l0.2 -2.3l0.1 -2.2l0.2 -2.3l0.1 -2.3M911.1 888.9l0.1 -2.3l0.2 -2.2l0.1 -2.3l0.2 -2.2l0.1 -2.3l0.2 -2.3M913.7 849l0.1 -2.3l0.2 -2.2l0.1 -2.3l0.1 -2.3l0.2 -2.2l0.1 -2.3M916.3 809.1l0.2 -2.3l0.1 -2.3l0.2 -2.2l0.2 -2.3l0.1 -2.2l0.2 -2.3M919.3 769.2l0.2 -2.3l0.2 -2.2l0.2 -2.3l0.2 -2.3l0.1 -2.2l0.2 -2.3M922.9 729.3l0.2 -2.2l0.3 -2.3l0.2 -2.2l0.2 -2.3l0.3 -2.2l0.2 -2.3M927.4 689.6l0.2 -2.3l0.3 -2.2l0.3 -2.3l0.3 -2.2l0.3 -2.2l0.3 -2.3M932.7 649.9l0.3 -2.2l0.3 -2.2l0.3 -2.3l0.4 -2.2l0.3 -2.3l0.3 -2.2M938.7 610.4l0.4 -2.2l0.4 -2.3l0.3 -2.2l0.4 -2.2l0.4 -2.3l0.4 -2.2M945.5 571l0.4 -2.2l0.4 -2.2l0.4 -2.2l0.4 -2.2l0.4 -2.2l0.4 -2.2M951.7 534.9l1.9 -5.3l0.2 -3.5l1 -0.9l0.2 -2.9M958.8 498.6l0.8 2.7l0.5 -5.4l0.1 -0.2l0.5 -3.9M965.2 469.2l0 0.3l0.9 -1.4l-0.4 -3.8l1.2 -3.3M969.6 440l0.9 -1l0.3 -2.6l0 -0.2l0 -3.2l1.1 -2M974.6 407l0.7 -0.6l0.6 -2.8l-0.2 -2l0.5 -3M978 379.4l0.2 -0.2l0.2 -1.5l0.7 -3.1l-0.2 -6.3M980.6 354l0.3 -3.3l0.6 -0.4l1 -3.6M983.4 329l0.5 1.3l0.5 -3.1l-0.5 -4.7M986.4 309l-0.1 -4.2l0.6 -1.3l0.9 -0.5l-0.3 -6.2M989.6 280.1l0.5 -0.5l0.8 -3.3l0 -2.4M992.4 261.9l0.9 -2.9l0 -2.8l1 -0.6M996.2 237.7l0.3 -1l1.2 1.8l-0.2 -5.4M1000 221.2l0.4 -5.3l0.3 3.9l0.7 -4.4M1005 201.8l-0.1 -5l1.3 1l1.2 -2.6l-0.2 -5.8M1011.3 176.4l0.2 4.6l1 -10.6l1.8 -7.7l0 -1.3M1018.4 157.2l1.6 -6.4l1.2 2.6l1.1 0.3l1.1 -2.2M1029.8 138.1l1.4 0.3l3.2 3.4l1.9 -6.4l2.5 -5.6M1046.5 134.5l2.4 -0.2l1.2 5.5M1057.8 153.7l2 -1.4l0.7 3.7M1066.5 156.5l0.9 6.2l1.4 8.5l1.6 -4.6l0.9 5.4l1.5 8.5M1076.4 185l1 -1.4l0.3 6.6M1082.8 204l0.4 -8.5l0.9 8.3l0.9 -3.3l0.7 7.3M1088.6 216.6l0.6 4.6l-0.4 0l1.3 1l1.7 4.4l0.7 2.5l0.2 2l0.2 1.4l2 4.3l-0.8 1.4l1.6 0.8l0.5 4.4l0.9 2l0.2 2.6M1103.7 267.3l0.4 0.2l0.7 4.8l0.8 3.2l0.8 -0.1l1 3.7l0.2 -1l0.3 3.6l1 4.6l-0.1 -1.9l1.3 4.2l0.5 1.6l0.9 5.4l0.8 2.2l0.5 -0.4l0.2 3.4l1 -1.1l0.5 6.7l1 1.5M1119 320.1l-0.1 1.3l1.4 3.7l0.9 1.5l1 1.5M1127.9 350l0.2 1.4M1132.3 366.5l1.1 2l0.5 -0.5l0.9 2l0.5 5.1l1 3l0.4 3.5l0.4 -2.5l1 4.8l0.6 0.1l1.3 3.5l0 3.5l0.8 4.1l0.5 0.1l1.2 2.1M1146.3 413.7l1.1 5.8l0.6 -0.9l1.3 4.2l0.4 2.2l1.1 3.1l-0.2 1.7l1 1.1l0.6 1.8l0.4 0.7l1.1 4.9l0.3 2.7l1.9 1.6l0 2.7l0.2 0.8M1160.1 462.1l0.5 -2.9M1166.2 482.1l0.6 1.6l0.1 1l0.9 3.8l1.4 1.4M1173.1 503.8l1 2.8l0.1 3.3l1.4 0.9l0.1 3l1.2 2.3l0.5 1.3l0.3 3l0.5 2.6l1 3.4l0.7 0.3l1.1 4.3l0.1 0.7l0.5 2.6l1.2 1.9l1.3 7.3l0.6 1.1M1189.2 558.6l0.7 4.1l0.7 0.7l0.8 2.5l0.9 4.7l-0.9 0.3M1196.4 584.5l-0.1 1.4M1202.1 604.9l0.8 0.9l0.5 2l1.7 3.2M1209.4 625.6l0.4 5.8l2.5 2.3M1216.7 649.8l0.8 0.8l1.1 4.2l-0.3 3.8l1.2 1.2M1225.8 676.3l0.5 4.5M1229.7 693.8l1.5 0.5l0.2 3.2l0.5 2.1l1.1 4.5l0.8 -0.8l0.9 2.5l0.2 5.4l0.8 1l1.2 0.8l1.4 3.2l0.1 2.3l0.1 2.4l1.3 3.3l0.4 1.7l0.4 1.5l1.2 1.8l0.8 0.5l1.1 4.3l1.1 4.7l0.7 1M1250.9 759.2l1.6 2M1257.8 775.8l0.5 5.2l1.2 1.4l0.5 1.1l0.5 1.2l1.1 3.3l1.6 2.4M1267.5 804.3l1.1 4.1l0.5 -0.9l0.6 5l1.4 2.9l0.2 0.9M1277.5 831.5l0.7 5.9l0.5 -1.7l0.9 4.4l0.8 3.2l1 0.7l0.8 1.3M1287.4 862.4l1.2 0.5l0.6 0.3l0.2 6l1.6 0.3l1.2 3.6M1298.3 889.6l0.9 -1l1.1 3.7l0.8 3.7M1307.8 912l1.4 -0.5l0.1 5.9l1.7 1.8l0.2 2.6M1316.9 935.1l1.4 2.9l0.7 -0.5l1.2 4.5l1.6 -0.1l0.9 3.8M1330.2 965.8l1 2.2l1 -1.3M1339.6 982.6l0.6 3.6M1347.1 1001.2l1.4 1.4l0.9 2.8l1.3 1.1l0.5 1.9l1.6 2.2M1360.8 1027.1l1.9 2.8l0.8 2.4M1372.8 1049.5l1.3 0.6l1.2 4.4l0.6 -0.1l1 1.3l1.6 4.1l1.4 2M1390.7 1078.7l2.1 0.4l1 3.2l1.2 2.1M1404.1 1094.7l1.4 3l1.1 3.6l1.1 2.5l1.7 0.2M1420.6 1115.9l1.2 2.5M1431.5 1128.9l0.5 0.8l2.6 1.3l1.5 2l1.9 0.5l2 0.6l1.5 2.2M1452.5 1144.7l1.8 2.3l2 1.7l1.8 1.4l2.6 -0.3M1472.2 1159.5l2.4 -0.3l2.5 1.2M1493.9 1169.1l1.7 3.5l2.3 -1.9l1.5 3.3l2.5 -0.3l1.9 2.2l1.9 -0.1M1522 1183.7l2 0.3l3 0.6M1542.9 1189.8l2.8 -0.4M1560.3 1196.2l3.2 -0.7M1580.3 1199.9l2.9 0.8l2 -1l2.8 1.8M1600.3 1201.9l2.4 1l2.1 1.1l2.2 -0.2l1.8 -0.2l1.9 0.9M1625.9 1207l1.8 1.5l2.8 -1.3l2.3 -1.1M1651.1 1208.8l2.3 0.5l2 0.8l3.1 0.3l3.1 -0.2M1678.8 1211.2l2.3 0l1.7 -1l2.7 -0.1l2.2 1.1" stroke="#0f0" stroke-width="9.0" stroke-linecap="round" stroke-linejoin="round"/>
<path d="M801.3 1217.3l2.4 0.5l2.4 0.5l2.4 0.3l2.4 0.4l2.5 0.3M837.1 1220.1l2.4 -0.2l2.5 -0.1l2.4 -0.2l2.5 -0.3l2.4 -0.2M872.4 1213.9l2.3 -0.8l2.3 -0.9l2.3 -1l2.2 -1l2.2 -1.1M902 1194.2l1.6 -2l1.5 -2.2l1.5 -2.1l1.3 -2.2l1.3 -2.3M918.4 1159.9l0.7 -2.5l0.6 -2.5l0.6 -2.5l0.6 -2.6l0.6 -2.5M925.9 1122.4l0.4 -2.6l0.4 -2.5l0.4 -2.6l0.4 -2.6l0.4 -2.5M931.5 1084.6l0.4 -2.6l0.3 -2.6l0.4 -2.6l0.3 -2.6l0.4 -2.5M936.5 1046.6l0.3 -2.6l0.4 -2.6l0.3 -2.5l0.3 -2.6l0.3 -2.6M941 1008.6l0.3 -2.6l0.3 -2.6l0.2 -2.6l0.3 -2.6l0.3 -2.5M945 970.5l0.2 -2.6l0.3 -2.5l0.2 -2.6l0.3 -2.6l0.2 -2.6M948.6 932.4l0.2 -2.2l0.2 -2.3l0.2 -2.2l0.2 -2.3l0.2 -2.3l0.2 -2.2M952.1 892.6l0.2 -2.3l0.2 -2.2l0.2 -2.3l0.2 -2.3l0.2 -2.2l0.1 -2.3M955.4 852.7l0.2 -2.2l0.2 -2.3l0.2 -2.3l0.2 -2.2l0.1 -2.3l0.2 -2.2M958.6 812.8l0.2 -2.2l0.2 -2.3l0.1 -2.2l0.2 -2.3l0.2 -2.3l0.2 -2.2M961.7 773l0.2 -2.3l0.1 -2.3l0.2 -2.2l0.2 -2.3l0.2 -2.2l0.1 -2.3M964.7 733.1l0.2 -2.3l0.2 -2.2l0.1 -2.3l0.2 -2.3l0.2 -2.2l0.1 -2.3M967.7 693.2l0.2 -2.3l0.2 -2.2l0.1 -2.3l0.2 -2.2l0.2 -2.3l0.1 -2.3M970.7 653.3l0.2 -2.3l0.1 -2.2l0.2 -2.3l0.2 -2.2l0.1 -2.3l0.2 -2.3M973.7 613.4l0.2 -2.2l0.1 -2.3l0.2 -2.3l0.2 -2.2l0.1 -2.3l0.2 -2.2M976.7 573.5l0.2 -2.2l0.2 -2.2l0.1 -2.3l0.2 -2.2l0.2 -2.2l0.2 -2.3M979.5 534.1l0 -1.9l-0.3 -2l1.1 -5.5l0.8 1.8M982.5 501.5l1 1.3l-0.8 -4.4l0.2 -2.9l0 -1.3l0.5 -2.2l-0.7 -2.6M985 463.4l1 -3.8l-0.2 0.6l0.7 -4l-0.1 -1l-0.1 -5.4M988.6 427.4l0.8 -0.9l0 -0.8l-0.5 -3.5l0.7 -1.7M991.2 401.5l0.3 -5.1l0.4 -1.4l-0.3 0.1l0.6 -4.5M993.9 375l0 -2.1l0 -0.9l0.4 -0.8l0 -4.9M996.1 351.2l-0.1 -4.6l0.8 0l0.5 -2.5l-0.3 -4.9M999.4 321.9l0 -4.9l0.3 -2.8l0.7 -5.2M1001.9 296l1 -2.6l0 -0.6l0.4 -3.1M1005.2 274.4l0.5 -1.5l0.5 -4l-0.1 1.4l0.8 -4.9M1009 250.6l0 -1.1l0.3 -4.7l1 -1M1012.6 227.1l1 -1.2l-0.3 -4.5l0.5 -2.8M1017 204.6l0.1 -0.8l0.8 -3.4l-0.1 -0.9l1.2 -8.3M1020.9 189.6l1.5 -11.5l0.3 1.2l0.6 -1.2l1.1 -7.8l0.7 7.8M1028.2 172.4l1.4 -14.5l0.1 3.2l1.8 -5.8l0.5 1.8M1038.3 145.4l1.1 -5.7l0.7 -2.1l0.8 6.9M1047.9 135.2l1.8 -1.7l1.9 -5.8M1060.6 139l1.3 5.3M1066.3 145.7l1.2 5.3l1.7 1.2l0.2 4.9l0.7 -4.7l1.7 2.5l1.1 4.2M1077.6 164.6l1.3 4.8l1 6.3l0.8 0.5l1.1 -1.7l1.2 12.5M1086.6 190.4l0.8 2.9l1.4 -3.8l0.6 7.5l0.9 -4.3l0.9 9.5l1.4 -0.5M1095.8 213.8l0.9 -1.6l0.8 9.6l1 0.9l1 -2.4l1.2 6.6M1104.6 235.5l0.2 4l0.7 -2.2l0.6 5.7l0.6 0.8l1 -1.5M1111.6 254.5l0.5 4.9M1117.9 275.4l1.7 4.8l-0.6 2.8l0.7 2M1125.3 300.4l0.3 3l0.1 2.8l1.3 0.2l0.4 4.1l1.4 4.3M1132.8 329l0.8 2.1l0.9 1l0.4 2M1139.2 350.7l0.5 -0.5M1143.9 364.7l0.8 2.2M1150 387.2l0.6 5l0.5 -0.8l0.7 2.8l0.7 4l0.8 0.6l0.1 0.4l1.3 3.4l0.9 2.6l0.7 2.8l0.7 1.9l0.5 4.5M1162.2 428.2l0.6 0.5l1.1 2.4l-0.4 2.5l0.9 2l1.1 1.7l-0.2 3.4l1.1 4.1l0.7 2l0.6 1l0.3 3.3l0.9 2.4l0.2 4.8l1.5 -3.3l0.1 5l0.8 0l0.6 6.1l0.7 0l0.7 3.3l0.7 1.9l0.4 3M1179.6 490.3l1.4 4l1 4.2M1186.5 515.6l0.9 1.9l0.6 6l0.4 -1.2l1 5.2M1194.2 542.4l1.4 2.7l0.1 -0.6l-0.1 7.2l1.8 1.8l-0.2 -0.3M1203.2 573.1l-0.1 0.7M1207.5 586.8l0.5 3.1l0.5 5l1.6 -1.6l0.6 4l0.3 4.1M1216 614.3l1 5.7M1221.1 634.7l1.2 0.3l0.5 -1l0.6 6.5M1228.3 650.4l0.1 5.2l0.8 0.8l0.7 1.2l1.7 4.9l-0.3 1.2M1236.8 679.6l0.4 3.9l1.1 0.2l1.1 4.1l0.4 0.4l0 2.5l1.3 1.9M1247 710.3l0.8 2.1l1.1 1.1l0.9 2.2l0.6 3.8l1.1 3.4l0.8 2.7l1.3 1.7l-0.2 1.6l2 4.6l-0.7 -2.3l1.1 5.3l1.5 4.2l0.4 2.8M1264.9 759.7l0 3.8l1.4 -0.3l0.9 3.7l1.4 3l0.1 0.9M1274.4 787.7l1.4 -0.6l0.3 4.8l0.7 1.7l1 3.1M1282.9 807.2l0.9 6.4M1290.5 833.2l0.8 1.8l0.4 2.5l1.9 2.2M1297.4 848.7l1.5 3.9l0.6 5.3l1.2 -0.6M1304.7 872.6l1.1 1l0.5 2.7l1.5 4.6l0 -0.3M1315.1 899.9l1.6 3.4l0.3 3l0.7 0.9l0.7 1.4M1326.1 931.5l0.4 -1.8l1.1 4l0.2 0.4l1.8 2.5l0.2 2.5l0.7 1.7M1338.9 961.8l0.2 -0.6l0.9 2l1.2 5.4l0.5 -0.2M1348.1 982.2l0.2 5.3l2 3.2M1358.4 1004.1l0.1 2.5l1 0.9l1.3 3.5l0.7 3.2M1371.7 1031.5l1.2 3l1.1 1M1382.6 1047.8l1.2 3.4l1.5 4.2l1.1 0.2M1394.9 1066.6l1.3 4l0.6 0.4l1.3 2.6l1.6 1.4l1.4 2.6M1410.9 1089.8l2 4l0.6 0.2l1.9 2.7l1.4 -1.1l1.4 4.1M1428.8 1110.3l0.9 1.2M1437.7 1120.4l3 4.5M1452.5 1133.4l0.4 1.9M1466.4 1144l1.3 0.6M1480.5 1155.1l2.4 1.9l1.8 1.2l2 0.9M1498.8 1166.6l2.4 -0.8l1.5 3.9l2.3 0.1l2 0.2l2.1 0.8M1523.3 1178l2.1 -1l2.3 2.9l2.8 0.5M1544.8 1182.7l1.5 3.2M1564.8 1191.7l3.1 -0.1l2.1 -0.6M1590.3 1196.2l2.5 -0.3l3.2 -0.4l2.2 1.4l2.6 -1.9l2.9 0.8M1618.7 1196.6l2.2 -3l2.3 0.3l3.5 -0.7l2 1.4l2.5 -2.1M1647.9 1190.3l2.3 0.2l2.4 -1.1M1665.6 1190.9l2.8 -0.5M1682.4 1188.5l2.8 -0.6l2.4 1" stroke="#00f" stroke-width="9.0" stroke-linecap="round" stroke-linejoin="round"/>
</g>
<g>
<rect x="209.3" y="30.0" width="1473.80" height="1189.40" fill="none" stroke="#000" stroke-width="4.2"/>
<line x1="185.9" y1="1219.40" x2="209.3" y2="1219.40" stroke="#000" stroke-width="4.2"/>
<line x1="197.4" y1="948.93" x2="209.3" y2="948.93" stroke="#000" stroke-width="4.2"/>
<line x1="185.9" y1="678.45" x2="209.3" y2="678.45" stroke="#000" stroke-width="4.2"/>
<line x1="197.4" y1="407.98" x2="209.3" y2="407.98" stroke="#000" stroke-width="4.2"/>
<line x1="185.9" y1="137.50" x2="209.3" y2="137.50" stroke="#000" stroke-width="4.2"/>
<line x1="209.30" y1="1219.4" x2="209.30" y2="1231.0" stroke="#000" stroke-width="4.2"/>
<line x1="631.10" y1="1219.4" x2="631.10" y2="1242.9" stroke="#000" stroke-width="4.2"/>
<line x1="1052.00" y1="1219.4" x2="1052.00" y2="1231.0" stroke="#000" stroke-width="4.2"/>
<line x1="1472.90" y1="1219.4" x2="1472.90" y2="1242.9" stroke="#000" stroke-width="4.2"/>
<text transform="translate(169.20,1234.50) scale(1,1.045)" font-size="50.3" text-anchor="end">0.0</text>
<text transform="translate(169.20,693.55) scale(1,1.045)" font-size="50.3" text-anchor="end">0.5</text>
<text transform="translate(101.18,152.60) scale(1,1.045)" font-size="50.3">1<tspan dx="-1.9">.0</tspan></text>
<rect x="104.61" y="147.42" width="9.06" height="6.03" fill="#fff"/><rect x="118.42" y="147.42" width="8.82" height="6.03" fill="#fff"/>
<text transform="translate(630.60,1297.90) scale(1,1.045)" font-size="50.3" text-anchor="middle">400</text>
<text transform="translate(1472.40,1297.90) scale(1,1.045)" font-size="50.3" text-anchor="middle">600</text>
<text transform="translate(860.2,1400.2)" font-size="54.5" style="font-family:'Noto Serif CJK SC','Liberation Serif',serif">λ</text>
<text transform="translate(909.90,1399.60) scale(1,0.965)" font-size="63.4" text-anchor="start">[<tspan dx="1.3">nm</tspan><tspan dx="-1.3">]</tspan></text>
<text transform="translate(74.2,1148.1) rotate(-90) scale(1,1.035)" font-size="61.6" textLength="1033.2" lengthAdjust="spacing">Normalized absorption/emission [a.u.]</text>
<line x1="1364.4" y1="110.10" x2="1501.8" y2="110.10" stroke="#000" stroke-width="8.8" stroke-linecap="round"/>
<text transform="translate(1518.8,130.70) scale(1,1.038)" font-size="61.4">M<tspan dx="2.2">1</tspan></text>
<rect x="1576.34" y="124.69" width="11.09" height="6.86" fill="#fff"/><rect x="1593.16" y="124.69" width="10.76" height="6.86" fill="#fff"/>
<line x1="1364.4" y1="186.16" x2="1501.8" y2="186.16" stroke="#f00" stroke-width="8.8" stroke-linecap="round"/>
<text transform="translate(1518.80,206.76) scale(1,1.038)" font-size="61.4" text-anchor="start">M2</text>
<line x1="1364.4" y1="262.22" x2="1501.8" y2="262.22" stroke="#0f0" stroke-width="8.8" stroke-linecap="round"/>
<text transform="translate(1518.80,282.82) scale(1,1.038)" font-size="61.4" text-anchor="start">M3</text>
<line x1="1364.4" y1="338.28" x2="1501.8" y2="338.28" stroke="#00f" stroke-width="8.8" stroke-linecap="round"/>
<text transform="translate(1518.80,358.88) scale(1,1.038)" font-size="61.4" text-anchor="start">M4</text>
<line x1="1364.4" y1="414.34" x2="1501.8" y2="414.34" stroke="#000" stroke-width="8.8" stroke-linecap="round" stroke-dasharray="13.8 26.2"/>
<text transform="translate(1518.8,434.94) scale(1,1.038)" font-size="61.4">M<tspan dx="2.2">1</tspan></text>
<rect x="1576.34" y="428.93" width="11.09" height="6.86" fill="#fff"/><rect x="1593.16" y="428.93" width="10.76" height="6.86" fill="#fff"/>
<line x1="1364.4" y1="490.40" x2="1501.8" y2="490.40" stroke="#f00" stroke-width="8.8" stroke-linecap="round" stroke-dasharray="13.8 26.2"/>
<text transform="translate(1518.80,511.00) scale(1,1.038)" font-size="61.4" text-anchor="start">M2</text>
<line x1="1364.4" y1="566.46" x2="1501.8" y2="566.46" stroke="#0f0" stroke-width="8.8" stroke-linecap="round" stroke-dasharray="13.8 26.2"/>
<text transform="translate(1518.80,587.06) scale(1,1.038)" font-size="61.4" text-anchor="start">M3</text>
<line x1="1364.4" y1="642.52" x2="1501.8" y2="642.52" stroke="#00f" stroke-width="8.8" stroke-linecap="round" stroke-dasharray="13.8 26.2"/>
<text transform="translate(1518.80,663.12) scale(1,1.038)" font-size="61.4" text-anchor="start">M4</text>
</g>
</svg>
</body></html>
